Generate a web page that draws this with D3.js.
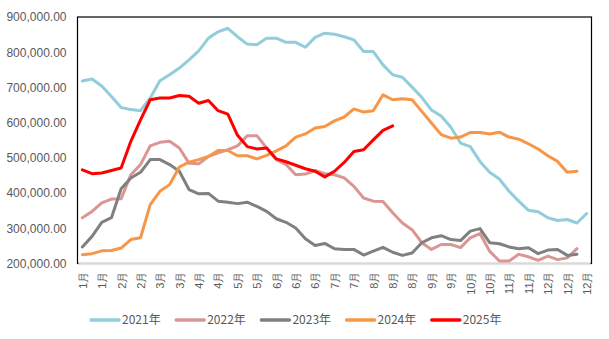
<!DOCTYPE html>
<html>
<head>
<meta charset="utf-8">
<script src="https://cdn.jsdelivr.net/npm/d3@7"></script>
<style>
  body { margin: 0; background: #fff; }
  svg { display: block; font-family: "Noto Sans CJK SC", "Noto Sans", sans-serif; }
</style>
</head>
<body>
<svg id="chart" width="609" height="339"></svg>
<script>
// weekly values, in thousands
const y2021 = [718,724,704,674,643,637,634,670,719,736,755,778,804,840,858,868,844,823,821,840,840,828,828,814,842,854,851,844,835,802,802,764,736,729,701,672,636,619,587,542,532,490,459,440,405,377,351,347,330,322,325,315,342];
const y2022 = [330,348,372,383,384,452,481,534,544,547,528,485,483,504,514,523,534,563,563,528,495,481,452,454,464,455,452,443,419,386,377,376,344,315,296,259,240,254,254,245,273,285,235,207,207,226,219,209,221,211,216,242];
const y2023 = [247,277,317,330,412,443,459,495,495,481,462,410,398,399,377,374,370,374,362,348,327,317,301,270,251,257,242,240,240,224,235,246,232,223,230,259,273,279,268,265,292,299,259,256,247,242,245,228,238,240,223,226];
const y2024 = [225,228,236,237,244,268,273,367,405,424,474,488,495,504,521,521,506,506,497,507,520,534,559,568,585,589,605,616,639,630,634,679,665,668,665,632,599,566,556,559,572,572,568,573,559,553,540,525,506,490,459,462];
const y2025 = [466,455,457,464,471,547,608,665,670,670,677,675,655,663,634,624,564,532,525,528,497,489,479,469,462,446,462,487,518,523,551,578,591];

// one label on every second week
const tickLabels = ['1月','1月','2月','2月','3月','3月','4月','4月','5月','5月','6月','6月','6月','7月','7月','8月','8月','8月','9月','9月','10月','10月','11月','11月','12月','12月','12月'];

const seriesNames = ['2021年','2022年','2023年','2024年','2025年'];
const colors = ['#92CDDC','#D99694','#808080','#F79646','#FF0000'];

const series = [y2021, y2022, y2023, y2024, y2025].map((vals, k) => ({
  name: seriesNames[k],
  color: colors[k],
  values: vals.map(v => v * 1000)
}));

const svg = d3.select('#chart');
const margin = {left: 77.5, right: 17.5, top: 17, bottom: 75.5};
const width = 609, height = 339;

const weeks = d3.range(53);
const x = d3.scalePoint()
  .domain(weeks)
  .range([margin.left, width - margin.right])
  .padding(0.5);

const y = d3.scaleLinear()
  .domain([200000, 900000])
  .range([height - margin.bottom, margin.top]);

// y axis labels
const yAxis = d3.axisLeft(y)
  .tickValues(d3.range(200000, 900001, 100000))
  .tickFormat(d3.format(',.2f'))
  .tickSize(0)
  .tickPadding(11);

const gy = svg.append('g')
  .attr('transform', `translate(${margin.left},0)`)
  .call(yAxis);
gy.select('.domain').remove();
gy.selectAll('text')
  .attr('fill', '#595959')
  .style('font-size', '12px');

// x axis labels
const xAxis = d3.axisBottom(x)
  .tickValues(weeks.filter(d => d % 2 === 0))
  .tickFormat(d => tickLabels[d / 2])
  .tickSize(0);

const gx = svg.append('g')
  .attr('transform', `translate(0,${height - margin.bottom})`)
  .call(xAxis);
gx.select('.domain').remove();
gx.selectAll('text')
  .attr('fill', '#595959')
  .style('font-size', '11px')
  .attr('transform', 'rotate(-90)')
  .attr('text-anchor', 'end')
  .attr('dy', '0.35em')
  .attr('x', -8)
  .attr('y', 0);

// plot frame
svg.append('rect')
  .attr('x', margin.left)
  .attr('y', margin.top)
  .attr('width', width - margin.left - margin.right)
  .attr('height', height - margin.top - margin.bottom)
  .attr('fill', 'none')
  .attr('stroke', '#000')
  .attr('stroke-width', 1.2);

svg.append('line')
  .attr('x1', margin.left + 1)
  .attr('x2', width - margin.right - 1)
  .attr('y1', height - margin.bottom)
  .attr('y2', height - margin.bottom)
  .attr('stroke', '#D9D9D9')
  .attr('stroke-width', 1.5);

const line = d3.line()
  .x((d, i) => x(i))
  .y(d => y(d));

svg.append('g')
  .selectAll('path').data(series).enter().append('path')
  .attr('d', d => line(d.values))
  .attr('fill', 'none')
  .attr('stroke', d => d.color)
  .attr('stroke-width', 3)
  .attr('stroke-linejoin', 'round')
  .attr('stroke-linecap', 'round');

// legend
const legend = svg.append('g')
  .attr('transform', 'translate(91,320)');

const item = legend.selectAll('g').data(series).enter().append('g')
  .attr('transform', (d, i) => `translate(${i * 85.2},0)`);

item.append('line')
  .attr('x1', 0).attr('x2', 28)
  .attr('y1', 0).attr('y2', 0)
  .attr('stroke', d => d.color)
  .attr('stroke-width', 3.5)
  .attr('stroke-linecap', 'round');

item.append('text')
  .attr('x', 31)
  .attr('dy', '0.35em')
  .attr('fill', '#595959')
  .style('font-size', '12px')
  .text(d => d.name);
</script>
</body>
</html>
